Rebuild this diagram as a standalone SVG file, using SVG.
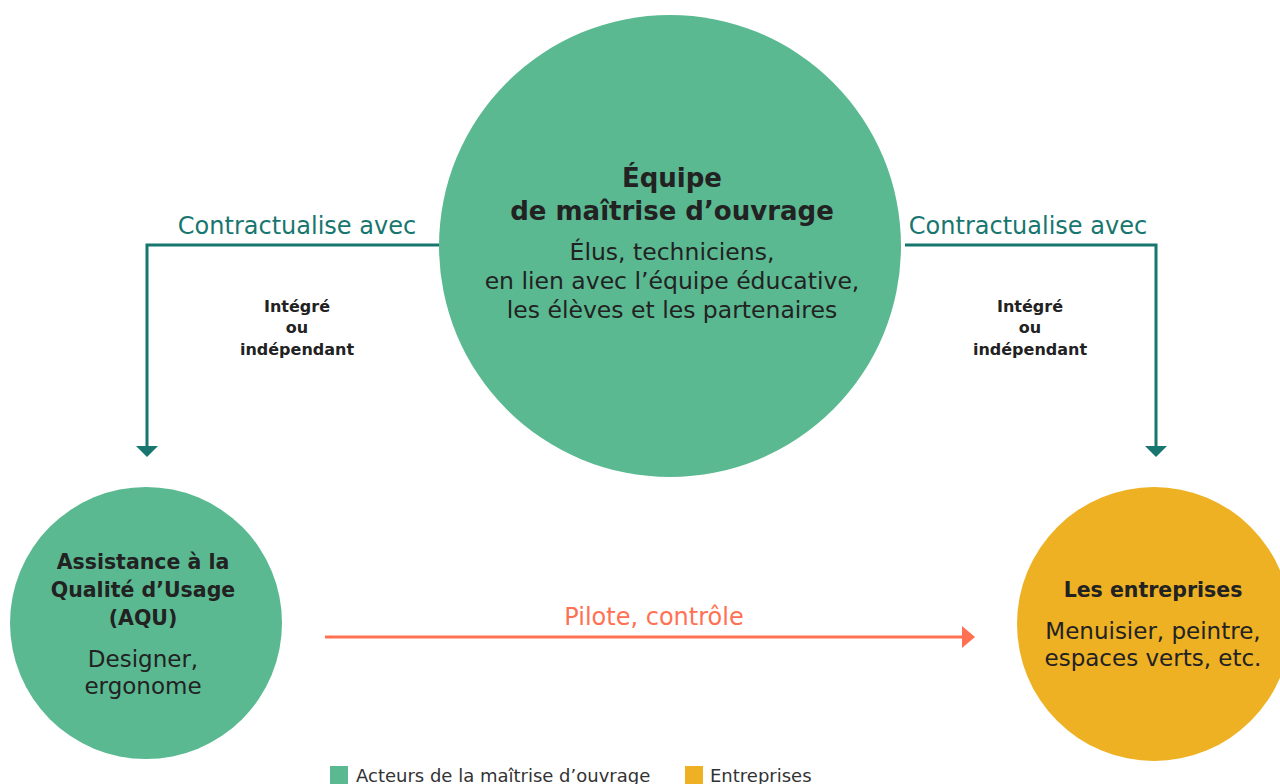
<svg xmlns="http://www.w3.org/2000/svg" width="1280" height="784" viewBox="0 0 1280 784">
<style>
text{font-family:"DejaVu Sans","Noto Sans","Liberation Sans",sans-serif;text-anchor:middle;fill:#222}
.b{font-weight:bold}
.teal{fill:#17766f;font-size:24px}
.lbl{font-size:16px;font-weight:bold}
.green{fill:#5ab991}
.yellow{fill:#edb123}
.leg{font-size:18px;text-anchor:start;fill:#333}
.h{font-size:26px;font-weight:bold}
.t{font-size:23.5px}
.sb{font-size:20.5px;font-weight:bold}
.s{font-size:23px}
</style>
<rect width="1280" height="784" fill="#fff"/>
<g id="connectors">
<polyline points="441,245 147,245 147,447" fill="none" stroke="#17766f" stroke-width="3"/>
<polygon points="136,446 158,446 147,457" fill="#17766f"/>
<polyline points="905,245 1156,245 1156,447" fill="none" stroke="#17766f" stroke-width="3"/>
<polygon points="1145,446 1167,446 1156,457" fill="#17766f"/>
<text class="teal" x="297" y="234">Contractualise avec</text>
<text class="teal" x="1028" y="234">Contractualise avec</text>
<text class="lbl" x="297" y="312">Intégré</text>
<text class="lbl" x="297" y="333">ou</text>
<text class="lbl" x="297" y="355">indépendant</text>
<text class="lbl" x="1030" y="312">Intégré</text>
<text class="lbl" x="1030" y="333">ou</text>
<text class="lbl" x="1030" y="355">indépendant</text>
<line x1="325" y1="637" x2="964" y2="637" stroke="#ff7152" stroke-width="3"/>
<polygon points="962,626 975,637 962,648" fill="#ff7152"/>
<text x="654" y="625" style="fill:#ff7152;font-size:24px">Pilote, contrôle</text>
</g>
<g id="moa">
<circle class="green" cx="670" cy="246" r="231"/>
<text class="h" x="672" y="187">Équipe</text>
<text class="h" x="672" y="220">de maîtrise d’ouvrage</text>
<text class="t" x="672" y="260">Élus, techniciens,</text>
<text class="t" x="672" y="289">en lien avec l’équipe éducative,</text>
<text class="t" x="672" y="318">les élèves et les partenaires</text>
</g>
<g id="aqu">
<circle class="green" cx="146" cy="623" r="136"/>
<text class="sb" x="143" y="569">Assistance à la</text>
<text class="sb" x="143" y="597">Qualité d’Usage</text>
<text class="sb" x="143" y="625">(AQU)</text>
<text class="s" x="143" y="667">Designer,</text>
<text class="s" x="143" y="694">ergonome</text>
</g>
<g id="entreprises">
<circle class="yellow" cx="1154" cy="624" r="137"/>
<text class="sb" x="1153" y="597">Les entreprises</text>
<text class="s" x="1153" y="639">Menuisier, peintre,</text>
<text class="s" x="1153" y="666">espaces verts, etc.</text>
</g>
<g id="legend">
<rect class="green" x="330" y="766" width="18" height="18"/>
<text class="leg" x="356" y="782">Acteurs de la maîtrise d’ouvrage</text>
<rect class="yellow" x="685" y="766" width="18" height="18"/>
<text class="leg" x="710" y="782">Entreprises</text>
</g>
</svg>
